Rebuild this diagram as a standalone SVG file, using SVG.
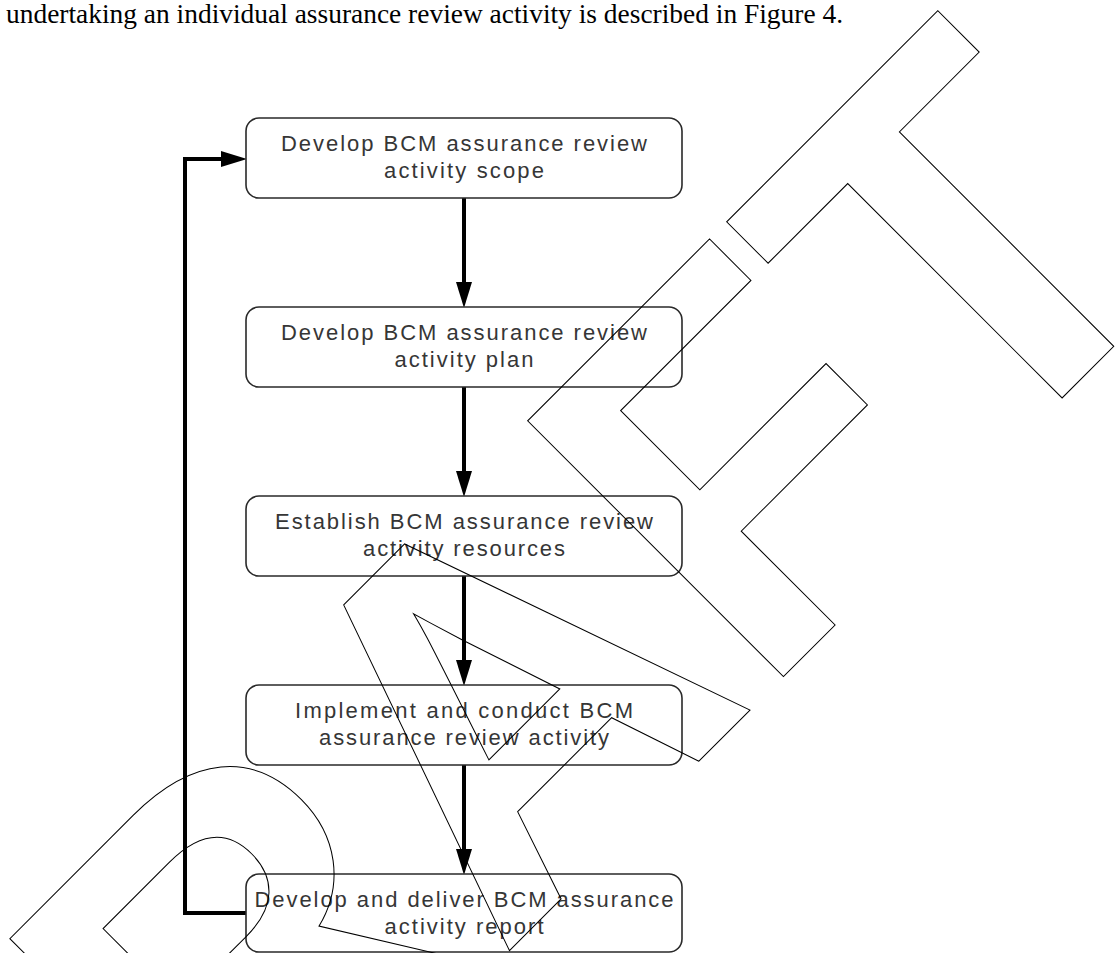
<svg xmlns="http://www.w3.org/2000/svg" width="1119" height="953" viewBox="0 0 1119 953">
  <defs>
    <style>
      .box { fill: #fff; stroke: #2a2a2a; stroke-width: 1.6; }
      .lbl { font-family: "Liberation Sans", Arial, sans-serif; font-size: 22px; fill: #363636; text-anchor: middle; }
      .flow { fill: none; stroke: #000; stroke-width: 4; }
      .body { font-family: "Liberation Serif", "Times New Roman", serif; font-size: 27.5px; fill: #000; }
      .wm { font-family: "Liberation Sans", Arial, sans-serif; font-weight: bold; font-size: 507px; fill: none; stroke: #000; stroke-width: 1; }
    </style>
    <marker id="head" markerUnits="userSpaceOnUse" markerWidth="26" markerHeight="16" refX="0" refY="8" orient="auto">
      <path d="M0,0 L26,8 L0,16 Z" fill="#000"/>
    </marker>
  </defs>

  <!-- running text above the figure -->
  <text class="body" x="6" y="23" textLength="837" lengthAdjust="spacingAndGlyphs">undertaking an individual assurance review activity is described in Figure 4.</text>

  <!-- connectors -->
  <g id="connectors">
    <path class="flow" d="M464,198 V282" marker-end="url(#head)"/>
    <path class="flow" d="M464,387 V471" marker-end="url(#head)"/>
    <path class="flow" d="M464,576 V660" marker-end="url(#head)"/>
    <path class="flow" d="M464,765 V849" marker-end="url(#head)"/>
    <path class="flow" d="M246,913 H185 V159 H221" marker-end="url(#head)"/>
  </g>

  <!-- process steps -->
  <g id="step-scope">
    <rect class="box" x="246" y="118" width="436" height="80" rx="13"/>
    <text class="lbl" x="464" y="151" textLength="366" lengthAdjust="spacing">Develop BCM assurance review</text>
    <text class="lbl" x="464" y="178" textLength="160" lengthAdjust="spacing">activity scope</text>
  </g>
  <g id="step-plan">
    <rect class="box" x="246" y="307" width="436" height="80" rx="13"/>
    <text class="lbl" x="464" y="340" textLength="366" lengthAdjust="spacing">Develop BCM assurance review</text>
    <text class="lbl" x="464" y="367" textLength="139" lengthAdjust="spacing">activity plan</text>
  </g>
  <g id="step-resources">
    <rect class="box" x="246" y="496" width="436" height="80" rx="13"/>
    <text class="lbl" x="464" y="529" textLength="378" lengthAdjust="spacing">Establish BCM assurance review</text>
    <text class="lbl" x="464" y="556" textLength="202" lengthAdjust="spacing">activity resources</text>
  </g>
  <g id="step-conduct">
    <rect class="box" x="246" y="685" width="436" height="80" rx="13"/>
    <text class="lbl" x="464" y="718" textLength="338" lengthAdjust="spacing">Implement and conduct BCM</text>
    <text class="lbl" x="464" y="745" textLength="290" lengthAdjust="spacing">assurance review activity</text>
  </g>
  <g id="step-report">
    <rect class="box" x="246" y="874" width="436" height="78" rx="13"/>
    <text class="lbl" x="464" y="907" textLength="419" lengthAdjust="spacing">Develop and deliver BCM assurance</text>
    <text class="lbl" x="464" y="934" textLength="159" lengthAdjust="spacing">activity report</text>
  </g>

  <!-- outlined watermark across the page -->
  <text class="wm" transform="rotate(-45) scale(1,1.037)" x="661" y="995.6" text-anchor="end">DRAFT</text>
</svg>
